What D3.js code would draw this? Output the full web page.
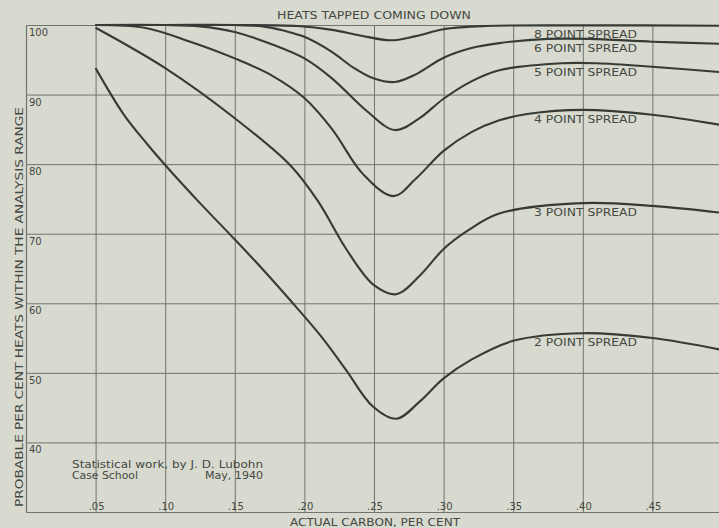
<!DOCTYPE html>
<html>
<head>
<meta charset="utf-8">
<script src="https://cdn.jsdelivr.net/npm/d3@7/dist/d3.min.js"></script>
<style>
  body { margin: 0; background: #d9dacf; }
  svg text { font-family: "DejaVu Sans", sans-serif; fill: #444842; }
</style>
</head>
<body>
<div id="chart"></div>
<script>
// tick values and their labels
var carbonTicks = [0.05, 0.10, 0.15, 0.20, 0.25, 0.30, 0.35, 0.40, 0.45];
var carbonLabels = [".05", ".10", ".15", ".20", ".25", ".30", ".35", ".40", ".45"];
var percentTicks = [40, 50, 60, 70, 80, 90, 100];
var percentLabels = ["40", "50", "60", "70", "80", "90", "100"];

// curves: [actual carbon, probable per cent]
var spread8 = [[0.05, 100], [0.10, 100], [0.15, 100], [0.195, 99.85], [0.22, 99.3], [0.24, 98.5],
  [0.262, 97.8], [0.28, 98.4], [0.30, 99.4], [0.33, 99.85], [0.40, 99.95], [0.50, 99.9]];
var spread6 = [[0.05, 100], [0.10, 100], [0.15, 100], [0.17, 99.8], [0.185, 99.2], [0.20, 98.3],
  [0.22, 96.1], [0.235, 93.9], [0.25, 92.3], [0.265, 91.8], [0.28, 92.9], [0.30, 95.3],
  [0.32, 96.7], [0.34, 97.4], [0.375, 98.0], [0.405, 98.0], [0.45, 97.6], [0.50, 97.3]];
var spread5 = [[0.05, 100], [0.10, 100], [0.125, 99.8], [0.15, 99.0], [0.177, 97.2], [0.20, 95.2],
  [0.22, 92.3], [0.245, 87.6], [0.265, 84.9], [0.282, 86.5], [0.30, 89.4], [0.32, 91.9],
  [0.34, 93.5], [0.385, 94.5], [0.41, 94.5], [0.45, 94.0], [0.50, 93.2]];
var spread4 = [[0.05, 100], [0.085, 99.6], [0.118, 97.6], [0.15, 95.2], [0.177, 92.7], [0.20, 89.5],
  [0.22, 85.0], [0.242, 78.6], [0.264, 75.4], [0.28, 77.9], [0.30, 81.9], [0.32, 84.6],
  [0.34, 86.3], [0.36, 87.2], [0.40, 87.8], [0.45, 87.1], [0.50, 85.6]];
var spread3 = [[0.05, 99.6], [0.10, 93.8], [0.15, 86.6], [0.19, 79.8], [0.21, 74.6], [0.23, 67.8],
  [0.25, 62.6], [0.266, 61.3], [0.283, 64.0], [0.30, 67.8], [0.317, 70.4], [0.34, 72.9],
  [0.40, 74.4], [0.45, 74.0], [0.50, 73.0]];
var spread2 = [[0.05, 93.8], [0.07, 87.2], [0.087, 82.9], [0.103, 79.2], [0.125, 74.4], [0.147, 69.8],
  [0.17, 64.9], [0.19, 60.4], [0.213, 55.0], [0.23, 50.4], [0.249, 45.2], [0.266, 43.4],
  [0.283, 45.9], [0.30, 49.2], [0.32, 51.9], [0.35, 54.6], [0.40, 55.7], [0.45, 55.0], [0.50, 53.3]];

var seriesNames = ["8 POINT SPREAD", "6 POINT SPREAD", "5 POINT SPREAD",
  "4 POINT SPREAD", "3 POINT SPREAD", "2 POINT SPREAD"];
var seriesData = [spread8, spread6, spread5, spread4, spread3, spread2];

var W = 719, H = 528;

var svg = d3.select("#chart")
  .append("svg")
    .attr("width", W)
    .attr("height", H);

svg.append("rect")
  .attr("width", W)
  .attr("height", H)
  .attr("fill", "#d9dacf");

// scales: the grid runs past the right edge of the page
var x = d3.scaleLinear().domain([0, 0.5]).range([26, 722]);
var y = d3.scaleLinear().domain([30, 100]).range([512, 25]);

var gridColor = "#71756d";

// vertical grid + bottom line
var gx = svg.append("g")
  .attr("transform", "translate(0," + y(30) + ")")
  .call(d3.axisBottom(x).tickValues(carbonTicks).tickSize(-(y(30) - y(100))).tickSizeOuter(0).tickFormat(""));

// horizontal grid + left border
var gy = svg.append("g")
  .attr("transform", "translate(" + x(0) + ",0)")
  .call(d3.axisLeft(y).tickValues(percentTicks).tickSize(-(x(0.5) - x(0))).tickSizeOuter(0).tickFormat(""));

[gx, gy].forEach(function(g) {
  g.selectAll("line").attr("stroke", gridColor).attr("stroke-width", 1);
  g.select(".domain").attr("stroke", gridColor).attr("stroke-width", 1.2);
});

// tick labels, drawn inside the frame like on the original sheet
svg.selectAll(".ylab")
  .data(percentTicks)
  .enter().append("text")
    .attr("class", "ylab")
    .attr("x", x(0) + 3)
    .attr("y", function(d) { return y(d) + 11; })
    .style("font-size", "10px")
    .text(function(d, i) { return percentLabels[i]; });

svg.selectAll(".xlab")
  .data(carbonTicks)
  .enter().append("text")
    .attr("class", "xlab")
    .attr("x", function(d) { return x(d) + 1; })
    .attr("y", y(30) - 2)
    .attr("text-anchor", "middle")
    .style("font-size", "10px")
    .text(function(d, i) { return carbonLabels[i]; });

// curves
var line = d3.line()
  .x(function(d) { return x(d[0]); })
  .y(function(d) { return y(d[1]); })
  .curve(d3.curveCatmullRom.alpha(0.5));

svg.selectAll(".curve")
  .data(seriesData)
  .enter().append("path")
    .attr("class", "curve")
    .attr("fill", "none")
    .attr("stroke", "#363b36")
    .attr("stroke-width", 2.1)
    .attr("d", line);

// curve labels sit just under each curve's high point
svg.selectAll(".clab")
  .data(seriesData)
  .enter().append("text")
    .attr("class", "clab")
    .attr("x", x(0.365))
    .attr("y", function(d) {
      var top = d3.max(d.filter(function(p) { return p[0] >= 0.35; }), function(p) { return p[1]; });
      return y(top) + 13;
    })
    .attr("textLength", 103)
    .attr("lengthAdjust", "spacingAndGlyphs")
    .style("font-size", "10px")
    .text(function(d, i) { return seriesNames[i]; });

// titles
svg.append("text")
  .attr("x", 277).attr("y", 19)
  .attr("textLength", 194).attr("lengthAdjust", "spacingAndGlyphs")
  .style("font-size", "10px")
  .text("HEATS TAPPED COMING DOWN");

svg.append("text")
  .attr("x", 290).attr("y", 526)
  .attr("textLength", 170).attr("lengthAdjust", "spacingAndGlyphs")
  .style("font-size", "10px")
  .text("ACTUAL CARBON, PER CENT");

svg.append("text")
  .attr("transform", "translate(23,507) rotate(-90)")
  .attr("textLength", 400).attr("lengthAdjust", "spacingAndGlyphs")
  .style("font-size", "11px")
  .text("PROBABLE PER CENT HEATS WITHIN THE ANALYSIS RANGE");

// credit note
var note = svg.append("g").style("font-size", "10px");
note.append("text").attr("x", 72).attr("y", 468)
  .attr("textLength", 191).attr("lengthAdjust", "spacingAndGlyphs")
  .text("Statistical work, by J. D. Lubohn");
note.append("text").attr("x", 72).attr("y", 479)
  .attr("textLength", 66).attr("lengthAdjust", "spacingAndGlyphs")
  .text("Case School");
note.append("text").attr("x", 205).attr("y", 479)
  .attr("textLength", 58).attr("lengthAdjust", "spacingAndGlyphs")
  .text("May, 1940");
</script>
</body>
</html>
